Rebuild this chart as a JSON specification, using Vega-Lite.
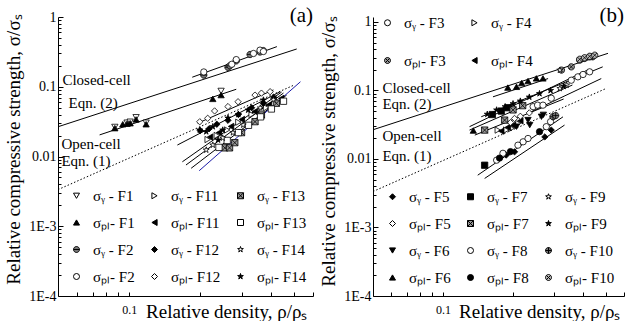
{
  "$schema": "https://vega.github.io/schema/vega-lite/v6.json",
  "background": "white",
  "padding": {"left": 4, "top": 4, "right": 0, "bottom": 0},
  "spacing": 5,
  "config": {
    "font": "Liberation Serif",
    "view": {"stroke": null},
    "axis": {"labelFont": "Liberation Serif", "titleFont": "Liberation Serif", "labelColor": "black", "titleColor": "black", "domainColor": "black", "tickColor": "black", "grid": false, "titleFontWeight": "normal", "domainWidth": 1, "tickWidth": 1},
    "legend": {"labelFont": "Liberation Serif", "labelFontSize": 15, "labelColor": "black", "symbolStrokeColor": "black", "symbolStrokeWidth": 1, "symbolSize": 36, "rowPadding": 12, "columnPadding": 12, "labelOffset": 9, "padding": 0}
  },
  "datasets": {
    "a_pts": [
      {"series": "σ\u1d67 - F1", "x": 0.087, "y": 0.0265}, {"series": "σ\u1d67 - F1", "x": 0.098, "y": 0.0305}, {"series": "σ\u1d67 - F1", "x": 0.101, "y": 0.0315}, {"series": "σ\u1d67 - F1", "x": 0.107, "y": 0.0365}, {"series": "σ\u1d67 - F1", "x": 0.118, "y": 0.0305}, {"series": "σ\u1d67 - F1", "x": 0.245, "y": 0.087},
      {"series": "σ\u209a\u2097- F1", "x": 0.087, "y": 0.0255}, {"series": "σ\u209a\u2097- F1", "x": 0.094, "y": 0.029}, {"series": "σ\u209a\u2097- F1", "x": 0.098, "y": 0.0295}, {"series": "σ\u209a\u2097- F1", "x": 0.101, "y": 0.030}, {"series": "σ\u209a\u2097- F1", "x": 0.107, "y": 0.034}, {"series": "σ\u209a\u2097- F1", "x": 0.118, "y": 0.029}, {"series": "σ\u209a\u2097- F1", "x": 0.226, "y": 0.067}, {"series": "σ\u209a\u2097- F1", "x": 0.245, "y": 0.076},
      {"series": "σ\u1d67 - F2", "x": 0.207, "y": 0.147}, {"series": "σ\u1d67 - F2", "x": 0.262, "y": 0.19}, {"series": "σ\u1d67 - F2", "x": 0.267, "y": 0.2}, {"series": "σ\u1d67 - F2", "x": 0.284, "y": 0.235}, {"series": "σ\u1d67 - F2", "x": 0.325, "y": 0.29}, {"series": "σ\u1d67 - F2", "x": 0.358, "y": 0.315}, {"series": "σ\u1d67 - F2", "x": 0.37, "y": 0.33},
      {"series": "σ\u209a\u2097- F2", "x": 0.207, "y": 0.163}, {"series": "σ\u209a\u2097- F2", "x": 0.272, "y": 0.21}, {"series": "σ\u209a\u2097- F2", "x": 0.284, "y": 0.245}, {"series": "σ\u209a\u2097- F2", "x": 0.336, "y": 0.30}, {"series": "σ\u209a\u2097- F2", "x": 0.358, "y": 0.335}, {"series": "σ\u209a\u2097- F2", "x": 0.37, "y": 0.32},
      {"series": "σ\u1d67 - F11", "x": 0.215, "y": 0.0175}, {"series": "σ\u1d67 - F11", "x": 0.235, "y": 0.02}, {"series": "σ\u1d67 - F11", "x": 0.26, "y": 0.024}, {"series": "σ\u1d67 - F11", "x": 0.29, "y": 0.031}, {"series": "σ\u1d67 - F11", "x": 0.33, "y": 0.04}, {"series": "σ\u1d67 - F11", "x": 0.38, "y": 0.05}, {"series": "σ\u1d67 - F11", "x": 0.43, "y": 0.06},
      {"series": "σ\u209a\u2097- F11", "x": 0.22, "y": 0.019}, {"series": "σ\u209a\u2097- F11", "x": 0.24, "y": 0.022}, {"series": "σ\u209a\u2097- F11", "x": 0.27, "y": 0.027}, {"series": "σ\u209a\u2097- F11", "x": 0.30, "y": 0.034}, {"series": "σ\u209a\u2097- F11", "x": 0.34, "y": 0.044}, {"series": "σ\u209a\u2097- F11", "x": 0.39, "y": 0.055}, {"series": "σ\u209a\u2097- F11", "x": 0.44, "y": 0.068},
      {"series": "σ\u1d67 - F12", "x": 0.20, "y": 0.0235}, {"series": "σ\u1d67 - F12", "x": 0.218, "y": 0.025}, {"series": "σ\u1d67 - F12", "x": 0.235, "y": 0.029}, {"series": "σ\u1d67 - F12", "x": 0.262, "y": 0.033}, {"series": "σ\u1d67 - F12", "x": 0.29, "y": 0.04}, {"series": "σ\u1d67 - F12", "x": 0.33, "y": 0.05}, {"series": "σ\u1d67 - F12", "x": 0.37, "y": 0.058}, {"series": "σ\u1d67 - F12", "x": 0.41, "y": 0.07},
      {"series": "σ\u209a\u2097- F12", "x": 0.199, "y": 0.0315}, {"series": "σ\u209a\u2097- F12", "x": 0.215, "y": 0.0353}, {"series": "σ\u209a\u2097- F12", "x": 0.23, "y": 0.045}, {"series": "σ\u209a\u2097- F12", "x": 0.262, "y": 0.052}, {"series": "σ\u209a\u2097- F12", "x": 0.289, "y": 0.061}, {"series": "σ\u209a\u2097- F12", "x": 0.341, "y": 0.076}, {"series": "σ\u209a\u2097- F12", "x": 0.363, "y": 0.081}, {"series": "σ\u209a\u2097- F12", "x": 0.395, "y": 0.085},
      {"series": "σ\u1d67 - F13", "x": 0.254, "y": 0.0133}, {"series": "σ\u1d67 - F13", "x": 0.266, "y": 0.0133}, {"series": "σ\u1d67 - F13", "x": 0.28, "y": 0.0158}, {"series": "σ\u1d67 - F13", "x": 0.299, "y": 0.022}, {"series": "σ\u1d67 - F13", "x": 0.341, "y": 0.0316}, {"series": "σ\u1d67 - F13", "x": 0.363, "y": 0.0394}, {"series": "σ\u1d67 - F13", "x": 0.42, "y": 0.058},
      {"series": "σ\u209a\u2097- F13", "x": 0.24, "y": 0.0135}, {"series": "σ\u209a\u2097- F13", "x": 0.26, "y": 0.017}, {"series": "σ\u209a\u2097- F13", "x": 0.29, "y": 0.022}, {"series": "σ\u209a\u2097- F13", "x": 0.32, "y": 0.028}, {"series": "σ\u209a\u2097- F13", "x": 0.36, "y": 0.037}, {"series": "σ\u209a\u2097- F13", "x": 0.40, "y": 0.048}, {"series": "σ\u209a\u2097- F13", "x": 0.45, "y": 0.062},
      {"series": "σ\u1d67 - F14", "x": 0.212, "y": 0.0124}, {"series": "σ\u1d67 - F14", "x": 0.226, "y": 0.0146}, {"series": "σ\u1d67 - F14", "x": 0.249, "y": 0.0184}, {"series": "σ\u1d67 - F14", "x": 0.275, "y": 0.022}, {"series": "σ\u1d67 - F14", "x": 0.304, "y": 0.0283}, {"series": "σ\u1d67 - F14", "x": 0.359, "y": 0.0497}, {"series": "σ\u1d67 - F14", "x": 0.408, "y": 0.065},
      {"series": "σ\u209a\u2097- F14", "x": 0.199, "y": 0.024}, {"series": "σ\u209a\u2097- F14", "x": 0.212, "y": 0.0227}, {"series": "σ\u209a\u2097- F14", "x": 0.226, "y": 0.0268}, {"series": "σ\u209a\u2097- F14", "x": 0.238, "y": 0.0173}, {"series": "σ\u209a\u2097- F14", "x": 0.249, "y": 0.024}, {"series": "σ\u209a\u2097- F14", "x": 0.262, "y": 0.0356}, {"series": "σ\u209a\u2097- F14", "x": 0.29, "y": 0.04}, {"series": "σ\u209a\u2097- F14", "x": 0.319, "y": 0.0464}, {"series": "σ\u209a\u2097- F14", "x": 0.37, "y": 0.0646}
    ],
    "a_lines": [
      {"line": "Eqn2", "x": 0.05, "y": 0.0267}, {"line": "Eqn2", "x": 0.512, "y": 0.348},
      {"line": "F1", "x": 0.075, "y": 0.0204}, {"line": "F1", "x": 0.284, "y": 0.092},
      {"line": "F2", "x": 0.185, "y": 0.137}, {"line": "F2", "x": 0.422, "y": 0.376},
      {"line": "U", "x": 0.195, "y": 0.030}, {"line": "U", "x": 0.408, "y": 0.09},
      {"line": "L1", "x": 0.160, "y": 0.0146}, {"line": "L1", "x": 0.436, "y": 0.085},
      {"line": "L2", "x": 0.168, "y": 0.0084}, {"line": "L2", "x": 0.442, "y": 0.084},
      {"line": "L3", "x": 0.174, "y": 0.00755}, {"line": "L3", "x": 0.45, "y": 0.0813},
      {"line": "L4", "x": 0.183, "y": 0.00678}, {"line": "L4", "x": 0.464, "y": 0.076}
    ],
    "a_blue": [{"x": 0.198, "y": 0.00626}, {"x": 0.531, "y": 0.118}],
    "eq1": [{"x": 0.05, "y": 0.00335}, {"x": 0.5, "y": 0.106}],
    "a_text": [
      {"label": "Closed-cell", "x": 0.0522, "y": 0.125},
      {"label": "Eqn. (2)", "x": 0.0554, "y": 0.0594},
      {"label": "Open-cell", "x": 0.0517, "y": 0.0152},
      {"label": "Eqn. (1)", "x": 0.0517, "y": 0.0086}
    ],
    "b_top": [
      {"series": "σ\u1d67 - F3", "x": 0.244, "y": 0.058}, {"series": "σ\u1d67 - F3", "x": 0.255, "y": 0.061}, {"series": "σ\u1d67 - F3", "x": 0.269, "y": 0.061}, {"series": "σ\u1d67 - F3", "x": 0.292, "y": 0.077}, {"series": "σ\u1d67 - F3", "x": 0.356, "y": 0.141}, {"series": "σ\u1d67 - F3", "x": 0.38, "y": 0.158}, {"series": "σ\u1d67 - F3", "x": 0.40, "y": 0.171}, {"series": "σ\u1d67 - F3", "x": 0.427, "y": 0.187},
      {"series": "σ\u209a\u2097- F3", "x": 0.323, "y": 0.198}, {"series": "σ\u209a\u2097- F3", "x": 0.356, "y": 0.221}, {"series": "σ\u209a\u2097- F3", "x": 0.387, "y": 0.277}, {"series": "σ\u209a\u2097- F3", "x": 0.406, "y": 0.293},
      {"series": "σ\u1d67 - F4", "x": 0.172, "y": 0.0264}, {"series": "σ\u1d67 - F4", "x": 0.187, "y": 0.0264}, {"series": "σ\u1d67 - F4", "x": 0.197, "y": 0.028}, {"series": "σ\u1d67 - F4", "x": 0.21, "y": 0.033},
      {"series": "σ\u209a\u2097- F4", "x": 0.178, "y": 0.0255}, {"series": "σ\u209a\u2097- F4", "x": 0.19, "y": 0.029}, {"series": "σ\u209a\u2097- F4", "x": 0.2, "y": 0.031}, {"series": "σ\u209a\u2097- F4", "x": 0.215, "y": 0.036}
    ],
    "b_bot": [
      {"series": "σ\u1d67 - F5", "x": 0.187, "y": 0.0114}, {"series": "σ\u1d67 - F5", "x": 0.203, "y": 0.0127}, {"series": "σ\u1d67 - F5", "x": 0.274, "y": 0.021}, {"series": "σ\u1d67 - F5", "x": 0.292, "y": 0.0264},
      {"series": "σ\u209a\u2097- F5", "x": 0.195, "y": 0.034}, {"series": "σ\u209a\u2097- F5", "x": 0.203, "y": 0.039}, {"series": "σ\u209a\u2097- F5", "x": 0.215, "y": 0.042}, {"series": "σ\u209a\u2097- F5", "x": 0.235, "y": 0.047},
      {"series": "σ\u1d67 - F6", "x": 0.207, "y": 0.0296}, {"series": "σ\u1d67 - F6", "x": 0.232, "y": 0.0369}, {"series": "σ\u1d67 - F6", "x": 0.236, "y": 0.0312}, {"series": "σ\u1d67 - F6", "x": 0.265, "y": 0.0413}, {"series": "σ\u1d67 - F6", "x": 0.27, "y": 0.044},
      {"series": "σ\u209a\u2097- F6", "x": 0.135, "y": 0.026}, {"series": "σ\u209a\u2097- F6", "x": 0.19, "y": 0.110}, {"series": "σ\u209a\u2097- F6", "x": 0.207, "y": 0.113}, {"series": "σ\u209a\u2097- F6", "x": 0.218, "y": 0.128}, {"series": "σ\u209a\u2097- F6", "x": 0.232, "y": 0.137}, {"series": "σ\u209a\u2097- F6", "x": 0.252, "y": 0.150}, {"series": "σ\u209a\u2097- F6", "x": 0.269, "y": 0.150},
      {"series": "σ\u1d67 - F7", "x": 0.151, "y": 0.0081}, {"series": "σ\u1d67 - F7", "x": 0.163, "y": 0.0445}, {"series": "σ\u1d67 - F7", "x": 0.178, "y": 0.05}, {"series": "σ\u1d67 - F7", "x": 0.19, "y": 0.056},
      {"series": "σ\u209a\u2097- F7", "x": 0.151, "y": 0.0264}, {"series": "σ\u209a\u2097- F7", "x": 0.184, "y": 0.0369}, {"series": "σ\u209a\u2097- F7", "x": 0.2, "y": 0.052}, {"series": "σ\u209a\u2097- F7", "x": 0.22, "y": 0.06},
      {"series": "σ\u1d67 - F8", "x": 0.170, "y": 0.0096}, {"series": "σ\u1d67 - F8", "x": 0.181, "y": 0.0121}, {"series": "σ\u1d67 - F8", "x": 0.210, "y": 0.0159}, {"series": "σ\u1d67 - F8", "x": 0.221, "y": 0.0178}, {"series": "σ\u1d67 - F8", "x": 0.232, "y": 0.0199}, {"series": "σ\u1d67 - F8", "x": 0.278, "y": 0.0296}, {"series": "σ\u1d67 - F8", "x": 0.29, "y": 0.035},
      {"series": "σ\u209a\u2097- F8", "x": 0.175, "y": 0.0103}, {"series": "σ\u209a\u2097- F8", "x": 0.195, "y": 0.0128}, {"series": "σ\u209a\u2097- F8", "x": 0.26, "y": 0.025},
      {"series": "σ\u1d67 - F9", "x": 0.318, "y": 0.198}, {"series": "σ\u1d67 - F9", "x": 0.318, "y": 0.107}, {"series": "σ\u1d67 - F9", "x": 0.34, "y": 0.12},
      {"series": "σ\u209a\u2097- F9", "x": 0.155, "y": 0.045}, {"series": "σ\u209a\u2097- F9", "x": 0.17, "y": 0.052}, {"series": "σ\u209a\u2097- F9", "x": 0.185, "y": 0.058}, {"series": "σ\u209a\u2097- F9", "x": 0.2, "y": 0.064}, {"series": "σ\u209a\u2097- F9", "x": 0.215, "y": 0.07}, {"series": "σ\u209a\u2097- F9", "x": 0.235, "y": 0.08}, {"series": "σ\u209a\u2097- F9", "x": 0.26, "y": 0.09}, {"series": "σ\u209a\u2097- F9", "x": 0.29, "y": 0.1}, {"series": "σ\u209a\u2097- F9", "x": 0.33, "y": 0.115},
      {"series": "σ\u1d67 - F10", "x": 0.297, "y": 0.0413}, {"series": "σ\u1d67 - F10", "x": 0.305, "y": 0.043}, {"series": "σ\u1d67 - F10", "x": 0.427, "y": 0.309}, {"series": "σ\u1d67 - F10", "x": 0.44, "y": 0.31},
      {"series": "σ\u209a\u2097- F10", "x": 0.387, "y": 0.285}, {"series": "σ\u209a\u2097- F10", "x": 0.406, "y": 0.30}, {"series": "σ\u209a\u2097- F10", "x": 0.427, "y": 0.315}, {"series": "σ\u209a\u2097- F10", "x": 0.449, "y": 0.327}
    ],
    "b_lines": [
      {"line": "Eqn2", "x": 0.05, "y": 0.0267}, {"line": "Eqn2", "x": 0.512, "y": 0.348},
      {"line": "b1", "x": 0.146, "y": 0.0413}, {"line": "b1", "x": 0.486, "y": 0.221},
      {"line": "b2", "x": 0.164, "y": 0.0807}, {"line": "b2", "x": 0.283, "y": 0.149},
      {"line": "b3", "x": 0.24, "y": 0.049}, {"line": "b3", "x": 0.479, "y": 0.149},
      {"line": "b4", "x": 0.13, "y": 0.0296}, {"line": "b4", "x": 0.42, "y": 0.20},
      {"line": "b5", "x": 0.13, "y": 0.0264}, {"line": "b5", "x": 0.36, "y": 0.12},
      {"line": "b6", "x": 0.137, "y": 0.0223}, {"line": "b6", "x": 0.33, "y": 0.075},
      {"line": "b7", "x": 0.141, "y": 0.0058}, {"line": "b7", "x": 0.328, "y": 0.0412},
      {"line": "b8", "x": 0.151, "y": 0.0052}, {"line": "b8", "x": 0.333, "y": 0.0312}
    ],
    "b_text": [
      {"label": "Closed-cell", "x": 0.0549, "y": 0.108},
      {"label": "Eqn. (2)", "x": 0.0549, "y": 0.063},
      {"label": "Open-cell", "x": 0.0549, "y": 0.0215},
      {"label": "Eqn. (1)", "x": 0.0549, "y": 0.0111}
    ]
  },
  "hconcat": [
    {
      "width": 255,
      "height": 279,
      "resolve": {"axis": {"y": "independent"}},
      "layer": [
        {
          "data": {"name": "a_lines"},
          "mark": {"type": "line", "color": "black", "strokeWidth": 1},
          "encoding": {
            "x": {"field": "x", "type": "quantitative", "scale": {"type": "log", "domain": [0.05, 0.6]},
              "axis": {"values": [0.06, 0.07, 0.08, 0.09, 0.1, 0.2, 0.3, 0.4, 0.5, 0.6], "labelExpr": "abs(datum.value - 0.1) < 1e-6 ? '0.1' : ''", "tickSize": -4, "labelFontSize": 12, "labelPadding": 12, "title": "Relative density, ρ/ρ\u209b", "titleFontSize": 19, "titleAlign": "right", "titleAnchor": "end", "titleX": 249, "titleY": 21, "titleBaseline": "alphabetic"}},
            "y": {"field": "y", "type": "quantitative", "scale": {"type": "log", "domain": [0.0001, 1]},
              "axis": {"orient": "left", "values": [0.0001, 0.001, 0.01, 0.1, 1], "labelExpr": "datum.value > 0.5 ? '1' : datum.value > 0.05 ? '0.1' : datum.value > 0.005 ? '0.01' : datum.value > 0.0005 ? '1E-3' : '1E-4'", "tickSize": -5, "labelPadding": 7, "labelFontSize": 14, "title": "Relative compressive strength, σ/σ\u209b", "titleFontSize": 19, "titlePadding": 5, "titleY": 132}},
            "detail": {"field": "line"}
          }
        },
        {
          "data": {"name": "a_blue"},
          "mark": {"type": "line", "color": "#1c1ca8", "strokeWidth": 1},
          "encoding": {
            "x": {"field": "x", "type": "quantitative", "scale": {"type": "log", "domain": [0.05, 0.6]}},
            "y": {"field": "y", "type": "quantitative", "scale": {"type": "log", "domain": [0.0001, 1]},
              "axis": {"orient": "left", "values": [0.0002, 0.0003, 0.0004, 0.0005, 0.0006, 0.0007, 0.0008, 0.0009, 0.002, 0.003, 0.004, 0.005, 0.006, 0.007, 0.008, 0.009, 0.02, 0.03, 0.04, 0.05, 0.06, 0.07, 0.08, 0.09, 0.2, 0.3, 0.4, 0.5, 0.6, 0.7, 0.8, 0.9], "labels": false, "domain": false, "title": null, "tickSize": -3}}
          }
        },
        {
          "data": {"name": "eq1"},
          "mark": {"type": "line", "color": "black", "strokeWidth": 1, "strokeDash": [1.5, 2]},
          "encoding": {
            "x": {"field": "x", "type": "quantitative", "scale": {"type": "log", "domain": [0.05, 0.6]}},
            "y": {"field": "y", "type": "quantitative", "scale": {"type": "log", "domain": [0.0001, 1]}, "axis": null}
          }
        },
        {
          "data": {"name": "a_pts"},
          "mark": {"type": "point", "filled": true, "strokeWidth": 0.8, "size": 40, "opacity": 1},
          "encoding": {
            "x": {"field": "x", "type": "quantitative", "scale": {"type": "log", "domain": [0.05, 0.6]}},
            "y": {"field": "y", "type": "quantitative", "scale": {"type": "log", "domain": [0.0001, 1]}, "axis": null},
            "shape": {"field": "series", "type": "nominal",
              "scale": {"domain": ["σ\u1d67 - F1", "σ\u209a\u2097- F1", "σ\u1d67 - F2", "σ\u209a\u2097- F2", "σ\u1d67 - F11", "σ\u209a\u2097- F11", "σ\u1d67 - F12", "σ\u209a\u2097- F12", "σ\u1d67 - F13", "σ\u209a\u2097- F13", "σ\u1d67 - F14", "σ\u209a\u2097- F14"],
                "range": ["triangle-down", "triangle-up", "M-1,0A1,1,0,1,1,1,0A1,1,0,1,1,-1,0ZM-1,0L1,0", "circle", "triangle-right", "triangle-left", "diamond", "diamond", "M-1,-1H1V1H-1ZM-1,-1L1,1M1,-1L-1,1", "square", "M0,-1L0.223,-0.307L0.951,-0.309L0.361,0.117L0.588,0.809L0,0.38L-0.588,0.809L-0.361,0.117L-0.951,-0.309L-0.223,-0.307Z", "M0,-1L0.223,-0.307L0.951,-0.309L0.361,0.117L0.588,0.809L0,0.38L-0.588,0.809L-0.361,0.117L-0.951,-0.309L-0.223,-0.307Z"]},
              "legend": {"orient": "none", "legendX": 11, "legendY": 171, "columns": 3, "title": null, "rowPadding": 11}},
            "fill": {"field": "series", "type": "nominal",
              "scale": {"domain": ["σ\u1d67 - F1", "σ\u209a\u2097- F1", "σ\u1d67 - F2", "σ\u209a\u2097- F2", "σ\u1d67 - F11", "σ\u209a\u2097- F11", "σ\u1d67 - F12", "σ\u209a\u2097- F12", "σ\u1d67 - F13", "σ\u209a\u2097- F13", "σ\u1d67 - F14", "σ\u209a\u2097- F14"],
                "range": ["white", "black", "#777777", "white", "white", "black", "black", "white", "#999999", "white", "white", "black"]},
              "legend": {"orient": "none", "legendX": 11, "legendY": 171, "columns": 3, "title": null, "rowPadding": 11}},
            "stroke": {"field": "series", "type": "nominal",
              "scale": {"domain": ["σ\u1d67 - F1", "σ\u209a\u2097- F1", "σ\u1d67 - F2", "σ\u209a\u2097- F2", "σ\u1d67 - F11", "σ\u209a\u2097- F11", "σ\u1d67 - F12", "σ\u209a\u2097- F12", "σ\u1d67 - F13", "σ\u209a\u2097- F13", "σ\u1d67 - F14", "σ\u209a\u2097- F14"],
                "range": ["black", "black", "black", "black", "black", "black", "black", "black", "black", "black", "black", "black"]},
              "legend": {"orient": "none", "legendX": 11, "legendY": 171, "columns": 3, "title": null, "rowPadding": 11}}
          }
        },
        {
          "data": {"name": "a_text"},
          "mark": {"type": "text", "align": "left", "baseline": "middle", "fontSize": 15, "font": "Liberation Serif", "color": "black"},
          "encoding": {
            "x": {"field": "x", "type": "quantitative", "scale": {"type": "log", "domain": [0.05, 0.6]}},
            "y": {"field": "y", "type": "quantitative", "scale": {"type": "log", "domain": [0.0001, 1]}, "axis": null},
            "text": {"field": "label"}
          }
        },
        {
          "data": {"values": [{"tag": "(a)"}]},
          "mark": {"type": "text", "align": "right", "baseline": "alphabetic", "fontSize": 21, "font": "Liberation Serif", "color": "black"},
          "encoding": {
            "x": {"datum": 0.6, "type": "quantitative", "scale": {"type": "log", "domain": [0.05, 0.6]}},
            "y": {"datum": 0.848, "type": "quantitative", "scale": {"type": "log", "domain": [0.0001, 1]}, "axis": null},
            "text": {"field": "tag"}
          }
        }
      ]
    },
    {
      "width": 251,
      "height": 279,
      "resolve": {"axis": {"y": "independent"}, "scale": {"shape": "independent", "fill": "independent", "stroke": "independent"}},
      "layer": [
        {
          "data": {"name": "b_lines"},
          "mark": {"type": "line", "color": "black", "strokeWidth": 1},
          "encoding": {
            "x": {"field": "x", "type": "quantitative", "scale": {"type": "log", "domain": [0.05, 0.6]},
              "axis": {"values": [0.06, 0.07, 0.08, 0.09, 0.1, 0.2, 0.3, 0.4, 0.5, 0.6], "labelExpr": "abs(datum.value - 0.1) < 1e-6 ? '0.1' : ''", "tickSize": -4, "labelFontSize": 12, "labelPadding": 12, "title": "Relative density, ρ/ρ\u209b", "titleFontSize": 19, "titleAlign": "right", "titleAnchor": "end", "titleX": 247, "titleY": 21, "titleBaseline": "alphabetic"}},
            "y": {"field": "y", "type": "quantitative", "scale": {"type": "log", "domain": [0.0001, 1.18]},
              "axis": {"orient": "left", "values": [0.0001, 0.001, 0.01, 0.1, 1], "labelExpr": "datum.value > 0.5 ? '1' : datum.value > 0.05 ? '0.1' : datum.value > 0.005 ? '0.01' : datum.value > 0.0005 ? '1E-3' : '1E-4'", "tickSize": -5, "labelPadding": 7, "labelFontSize": 14, "title": "Relative compressive strength, σ/σ\u209b", "titleFontSize": 19, "titlePadding": 5, "titleY": 134}},
            "detail": {"field": "line"}
          }
        },
        {
          "data": {"name": "eq1"},
          "mark": {"type": "line", "color": "black", "strokeWidth": 1, "strokeDash": [1.5, 2]},
          "encoding": {
            "x": {"field": "x", "type": "quantitative", "scale": {"type": "log", "domain": [0.05, 0.6]}},
            "y": {"field": "y", "type": "quantitative", "scale": {"type": "log", "domain": [0.0001, 1.18]},
              "axis": {"orient": "left", "values": [0.0002, 0.0003, 0.0004, 0.0005, 0.0006, 0.0007, 0.0008, 0.0009, 0.002, 0.003, 0.004, 0.005, 0.006, 0.007, 0.008, 0.009, 0.02, 0.03, 0.04, 0.05, 0.06, 0.07, 0.08, 0.09, 0.2, 0.3, 0.4, 0.5, 0.6, 0.7, 0.8, 0.9], "labels": false, "domain": false, "title": null, "tickSize": -3}}
          }
        },
        {
          "data": {"name": "b_top"},
          "mark": {"type": "point", "filled": true, "strokeWidth": 0.8, "size": 40, "opacity": 1},
          "encoding": {
            "x": {"field": "x", "type": "quantitative", "scale": {"type": "log", "domain": [0.05, 0.6]}},
            "y": {"field": "y", "type": "quantitative", "scale": {"type": "log", "domain": [0.0001, 1.18]}, "axis": null},
            "shape": {"field": "series", "type": "nominal",
              "scale": {"domain": ["σ\u1d67 - F3", "σ\u209a\u2097- F3", "σ\u1d67 - F4", "σ\u209a\u2097- F4"],
                "range": ["circle", "M-1,0A1,1,0,1,1,1,0A1,1,0,1,1,-1,0ZM-0.7,-0.7L0.7,0.7M0.7,-0.7L-0.7,0.7", "triangle-right", "triangle-left"]},
              "legend": {"orient": "none", "legendX": 7, "legendY": -2, "columns": 2, "title": null, "rowPadding": 22, "columnPadding": 21}},
            "fill": {"field": "series", "type": "nominal",
              "scale": {"domain": ["σ\u1d67 - F3", "σ\u209a\u2097- F3", "σ\u1d67 - F4", "σ\u209a\u2097- F4"],
                "range": ["white", "#999999", "white", "black"]},
              "legend": {"orient": "none", "legendX": 7, "legendY": -2, "columns": 2, "title": null, "rowPadding": 22, "columnPadding": 21}},
            "stroke": {"field": "series", "type": "nominal",
              "scale": {"domain": ["σ\u1d67 - F3", "σ\u209a\u2097- F3", "σ\u1d67 - F4", "σ\u209a\u2097- F4"],
                "range": ["black", "black", "black", "black"]},
              "legend": {"orient": "none", "legendX": 7, "legendY": -2, "columns": 2, "title": null, "rowPadding": 22, "columnPadding": 21}}
          }
        },
        {
          "data": {"name": "b_bot"},
          "mark": {"type": "point", "filled": true, "strokeWidth": 0.8, "size": 40, "opacity": 1},
          "encoding": {
            "x": {"field": "x", "type": "quantitative", "scale": {"type": "log", "domain": [0.05, 0.6]}},
            "y": {"field": "y", "type": "quantitative", "scale": {"type": "log", "domain": [0.0001, 1.18]}, "axis": null},
            "shape": {"field": "series", "type": "nominal",
              "scale": {"domain": ["σ\u1d67 - F5", "σ\u209a\u2097- F5", "σ\u1d67 - F6", "σ\u209a\u2097- F6", "σ\u1d67 - F7", "σ\u209a\u2097- F7", "σ\u1d67 - F8", "σ\u209a\u2097- F8", "σ\u1d67 - F9", "σ\u209a\u2097- F9", "σ\u1d67 - F10", "σ\u209a\u2097- F10"],
                "range": ["diamond", "diamond", "triangle-down", "triangle-up", "square", "M-1,-1H1V1H-1ZM-1,-1L1,1M1,-1L-1,1", "circle", "circle", "M0,-1L0.223,-0.307L0.951,-0.309L0.361,0.117L0.588,0.809L0,0.38L-0.588,0.809L-0.361,0.117L-0.951,-0.309L-0.223,-0.307Z", "M0,-1L0.223,-0.307L0.951,-0.309L0.361,0.117L0.588,0.809L0,0.38L-0.588,0.809L-0.361,0.117L-0.951,-0.309L-0.223,-0.307Z", "M-1,0A1,1,0,1,1,1,0A1,1,0,1,1,-1,0ZM-1,0L1,0M0,-1L0,1", "M-1,0A1,1,0,1,1,1,0A1,1,0,1,1,-1,0ZM-0.7,-0.7L0.7,0.7M0.7,-0.7L-0.7,0.7"]},
              "legend": {"orient": "none", "legendX": 12, "legendY": 172, "columns": 3, "title": null, "rowPadding": 11}},
            "fill": {"field": "series", "type": "nominal",
              "scale": {"domain": ["σ\u1d67 - F5", "σ\u209a\u2097- F5", "σ\u1d67 - F6", "σ\u209a\u2097- F6", "σ\u1d67 - F7", "σ\u209a\u2097- F7", "σ\u1d67 - F8", "σ\u209a\u2097- F8", "σ\u1d67 - F9", "σ\u209a\u2097- F9", "σ\u1d67 - F10", "σ\u209a\u2097- F10"],
                "range": ["black", "white", "black", "black", "black", "#999999", "white", "black", "white", "black", "#777777", "#bbbbbb"]},
              "legend": {"orient": "none", "legendX": 12, "legendY": 172, "columns": 3, "title": null, "rowPadding": 11}},
            "stroke": {"field": "series", "type": "nominal",
              "scale": {"domain": ["σ\u1d67 - F5", "σ\u209a\u2097- F5", "σ\u1d67 - F6", "σ\u209a\u2097- F6", "σ\u1d67 - F7", "σ\u209a\u2097- F7", "σ\u1d67 - F8", "σ\u209a\u2097- F8", "σ\u1d67 - F9", "σ\u209a\u2097- F9", "σ\u1d67 - F10", "σ\u209a\u2097- F10"],
                "range": ["black", "black", "black", "black", "black", "black", "black", "black", "black", "black", "black", "black"]},
              "legend": {"orient": "none", "legendX": 12, "legendY": 172, "columns": 3, "title": null, "rowPadding": 11}}
          }
        },
        {
          "data": {"name": "b_text"},
          "mark": {"type": "text", "align": "left", "baseline": "middle", "fontSize": 15, "font": "Liberation Serif", "color": "black"},
          "encoding": {
            "x": {"field": "x", "type": "quantitative", "scale": {"type": "log", "domain": [0.05, 0.6]}},
            "y": {"field": "y", "type": "quantitative", "scale": {"type": "log", "domain": [0.0001, 1.18]}, "axis": null},
            "text": {"field": "label"}
          }
        },
        {
          "data": {"values": [{"tag": "(b)"}]},
          "mark": {"type": "text", "align": "right", "baseline": "alphabetic", "fontSize": 21, "font": "Liberation Serif", "color": "black"},
          "encoding": {
            "x": {"datum": 0.6, "type": "quantitative", "scale": {"type": "log", "domain": [0.05, 0.6]}},
            "y": {"datum": 1.0, "type": "quantitative", "scale": {"type": "log", "domain": [0.0001, 1.18]}, "axis": null},
            "text": {"field": "tag"}
          }
        }
      ]
    }
  ]
}
